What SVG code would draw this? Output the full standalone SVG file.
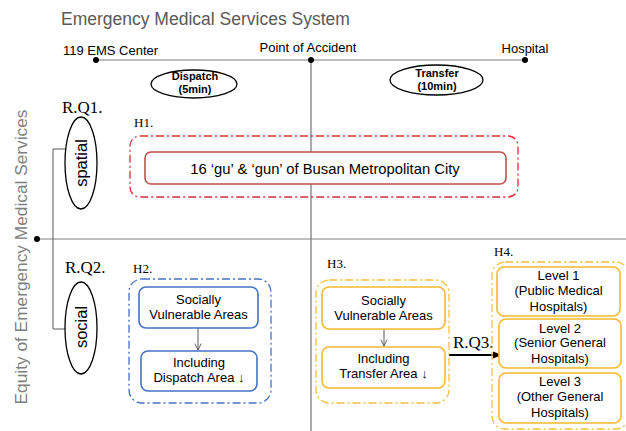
<svg xmlns="http://www.w3.org/2000/svg" width="626" height="431" viewBox="0 0 626 431">
<defs>
<style>
.sans{font-family:"Liberation Sans",Arial,sans-serif;}
.serif{font-family:"Liberation Serif","Times New Roman",serif;}
.title{font-size:17.5px;fill:#595959;}
.tl{font-size:13px;fill:#000;}
.oval{font-size:11px;font-weight:bold;fill:#000;}
.rq{font-size:17px;fill:#000;}
.h{font-size:13px;fill:#000;}
.box{font-size:13px;fill:#000;}
.ell{fill:#fff;stroke:#000;stroke-width:1.3;}
.redo{fill:none;stroke:#e0303a;stroke-width:1.3;stroke-dasharray:8 3 2 3;}
.redi{fill:#fff;stroke:#c0504d;stroke-width:1.6;}
.blueo{fill:none;stroke:#4472c4;stroke-width:1.3;stroke-dasharray:8 3 2 3;}
.bluei{fill:#fff;stroke:#4472c4;stroke-width:1.6;}
.yelo{fill:none;stroke:#f5be3c;stroke-width:1.3;stroke-dasharray:8 3 2 3;}
.yeli{fill:#fff;stroke:#f5b82e;stroke-width:1.6;}
.gl{stroke:#a6a6a6;stroke-width:1.5;fill:none;}
.dl{stroke:#595959;stroke-width:1;fill:none;}
</style>
<marker id="thin" viewBox="0 0 10 10" refX="9" refY="5" markerWidth="8" markerHeight="8" orient="auto" markerUnits="userSpaceOnUse">
<path d="M1,1 L9,5 L1,9" fill="none" stroke="#595959" stroke-width="1.2"/>
</marker>
<marker id="bold" viewBox="0 0 10 10" refX="9" refY="5" markerWidth="9" markerHeight="9" orient="auto" markerUnits="userSpaceOnUse">
<path d="M0,1 L10,5 L0,9 Z" fill="#000"/>
</marker>
</defs>
<rect width="626" height="431" fill="#fff"/>

<text class="sans title" x="61" y="25">Emergency Medical Services System</text>
<text class="sans" x="27" y="257" transform="rotate(-90 27 257)" text-anchor="middle" font-size="17.3" fill="#7f7f7f">Equity of Emergency Medical Services</text>

<g id="connectors">
<line class="gl" x1="96" y1="60" x2="525" y2="60"/>
<line class="dl" x1="311" y1="60" x2="311" y2="431"/>
<line x1="37" y1="239" x2="626" y2="239" stroke="#808080" stroke-width="1.2"/>
<polyline class="dl" points="66,149 53,149 53,329 66,329" stroke="#808080"/>
<line class="dl" x1="198" y1="328" x2="198" y2="350" marker-end="url(#thin)" stroke="#595959"/>
<line class="dl" x1="384" y1="329" x2="384" y2="346" marker-end="url(#thin)" stroke="#595959"/>
<line x1="449" y1="355" x2="501" y2="355" stroke="#000" stroke-width="2" marker-end="url(#bold)"/>
<circle cx="96" cy="60" r="3" fill="#000"/>
<circle cx="311" cy="60" r="3" fill="#000"/>
<circle cx="525" cy="60" r="3" fill="#000"/>
<circle cx="37" cy="239" r="3" fill="#000"/>
</g>

<g id="ems-center"><text class="sans tl" x="63" y="55">119 EMS Center</text></g>
<g id="accident"><text class="sans tl" x="308" y="52" text-anchor="middle">Point of Accident</text></g>
<g id="hospital"><text class="sans tl" x="525" y="53" text-anchor="middle">Hospital</text></g>

<g id="dispatch">
<ellipse class="ell" cx="194" cy="84" rx="43" ry="14"/>
<text class="sans oval" x="195" y="80" text-anchor="middle">Dispatch</text>
<text class="sans oval" x="195" y="93" text-anchor="middle">(5min)</text>
</g>
<g id="transfer">
<ellipse class="ell" cx="436.5" cy="80" rx="46.5" ry="15"/>
<text class="sans oval" x="437" y="77" text-anchor="middle">Transfer</text>
<text class="sans oval" x="437" y="90" text-anchor="middle">(10min)</text>
</g>

<g id="rq1">
<text class="serif rq" x="62" y="113">R.Q1.</text>
<ellipse class="ell" cx="81" cy="163" rx="16" ry="46"/>
<text class="sans" x="87" y="163" transform="rotate(-90 87 163)" text-anchor="middle" font-size="16.5" fill="#000">spatial</text>
</g>
<g id="rq2">
<text class="serif rq" x="65" y="273">R.Q2.</text>
<ellipse class="ell" cx="81" cy="328" rx="16" ry="46"/>
<text class="sans" x="87" y="327" transform="rotate(-90 87 327)" text-anchor="middle" font-size="16.5" fill="#000">social</text>
</g>

<g id="h1">
<text class="serif h" x="134" y="127">H1.</text>
<rect class="redo" x="130" y="136" width="388" height="61" rx="10"/>
<rect class="redi" x="145" y="152" width="361" height="32" rx="6"/>
<text class="sans" x="325" y="174" text-anchor="middle" font-size="14.8" fill="#000">16 ‘gu’ &amp; ‘gun’ of Busan Metropolitan City</text>
</g>

<g id="h2">
<text class="serif h" x="133" y="273">H2.</text>
<rect class="blueo" x="129" y="279" width="142" height="124" rx="13"/>
<rect class="bluei" x="139" y="287" width="119" height="41" rx="7"/>
<text class="sans box" x="198.5" y="304" text-anchor="middle">Socially</text>
<text class="sans box" x="198.5" y="319" text-anchor="middle">Vulnerable Areas</text>
<rect class="bluei" x="141" y="351" width="116" height="40" rx="7"/>
<text class="sans box" x="199" y="367" text-anchor="middle">Including</text>
<text class="sans box" x="199" y="382" text-anchor="middle">Dispatch Area ↓</text>
</g>

<g id="h3">
<text class="serif h" x="327" y="268">H3.</text>
<rect class="yelo" x="316" y="280" width="133" height="123" rx="13"/>
<rect class="yeli" x="322" y="287" width="123" height="42" rx="7"/>
<text class="sans box" x="383.5" y="305" text-anchor="middle">Socially</text>
<text class="sans box" x="383.5" y="320" text-anchor="middle">Vulnerable Areas</text>
<rect class="yeli" x="322" y="347" width="123" height="41" rx="7"/>
<text class="sans box" x="383.5" y="363" text-anchor="middle">Including</text>
<text class="sans box" x="383.5" y="378" text-anchor="middle">Transfer Area ↓</text>
</g>

<g id="rq3"><text class="serif rq" x="453" y="348">R.Q3.</text></g>

<g id="h4">
<text class="serif h" x="494" y="256">H4.</text>
<rect class="yelo" x="492" y="262" width="137" height="167" rx="13"/>
<rect class="yeli" x="497" y="267" width="123" height="49" rx="7"/>
<text class="sans box" x="558.5" y="280" text-anchor="middle">Level 1</text>
<text class="sans box" x="558.5" y="295" text-anchor="middle">(Public Medical</text>
<text class="sans box" x="558.5" y="311" text-anchor="middle">Hospitals)</text>
<rect class="yeli" x="499" y="319" width="122" height="49" rx="7"/>
<text class="sans box" x="560" y="333" text-anchor="middle">Level 2</text>
<text class="sans box" x="560" y="347" text-anchor="middle">(Senior General</text>
<text class="sans box" x="560" y="363" text-anchor="middle">Hospitals)</text>
<rect class="yeli" x="499" y="373" width="122" height="50" rx="7"/>
<text class="sans box" x="560" y="386" text-anchor="middle">Level 3</text>
<text class="sans box" x="560" y="401" text-anchor="middle">(Other General</text>
<text class="sans box" x="560" y="417" text-anchor="middle">Hospitals)</text>
</g>
</svg>
